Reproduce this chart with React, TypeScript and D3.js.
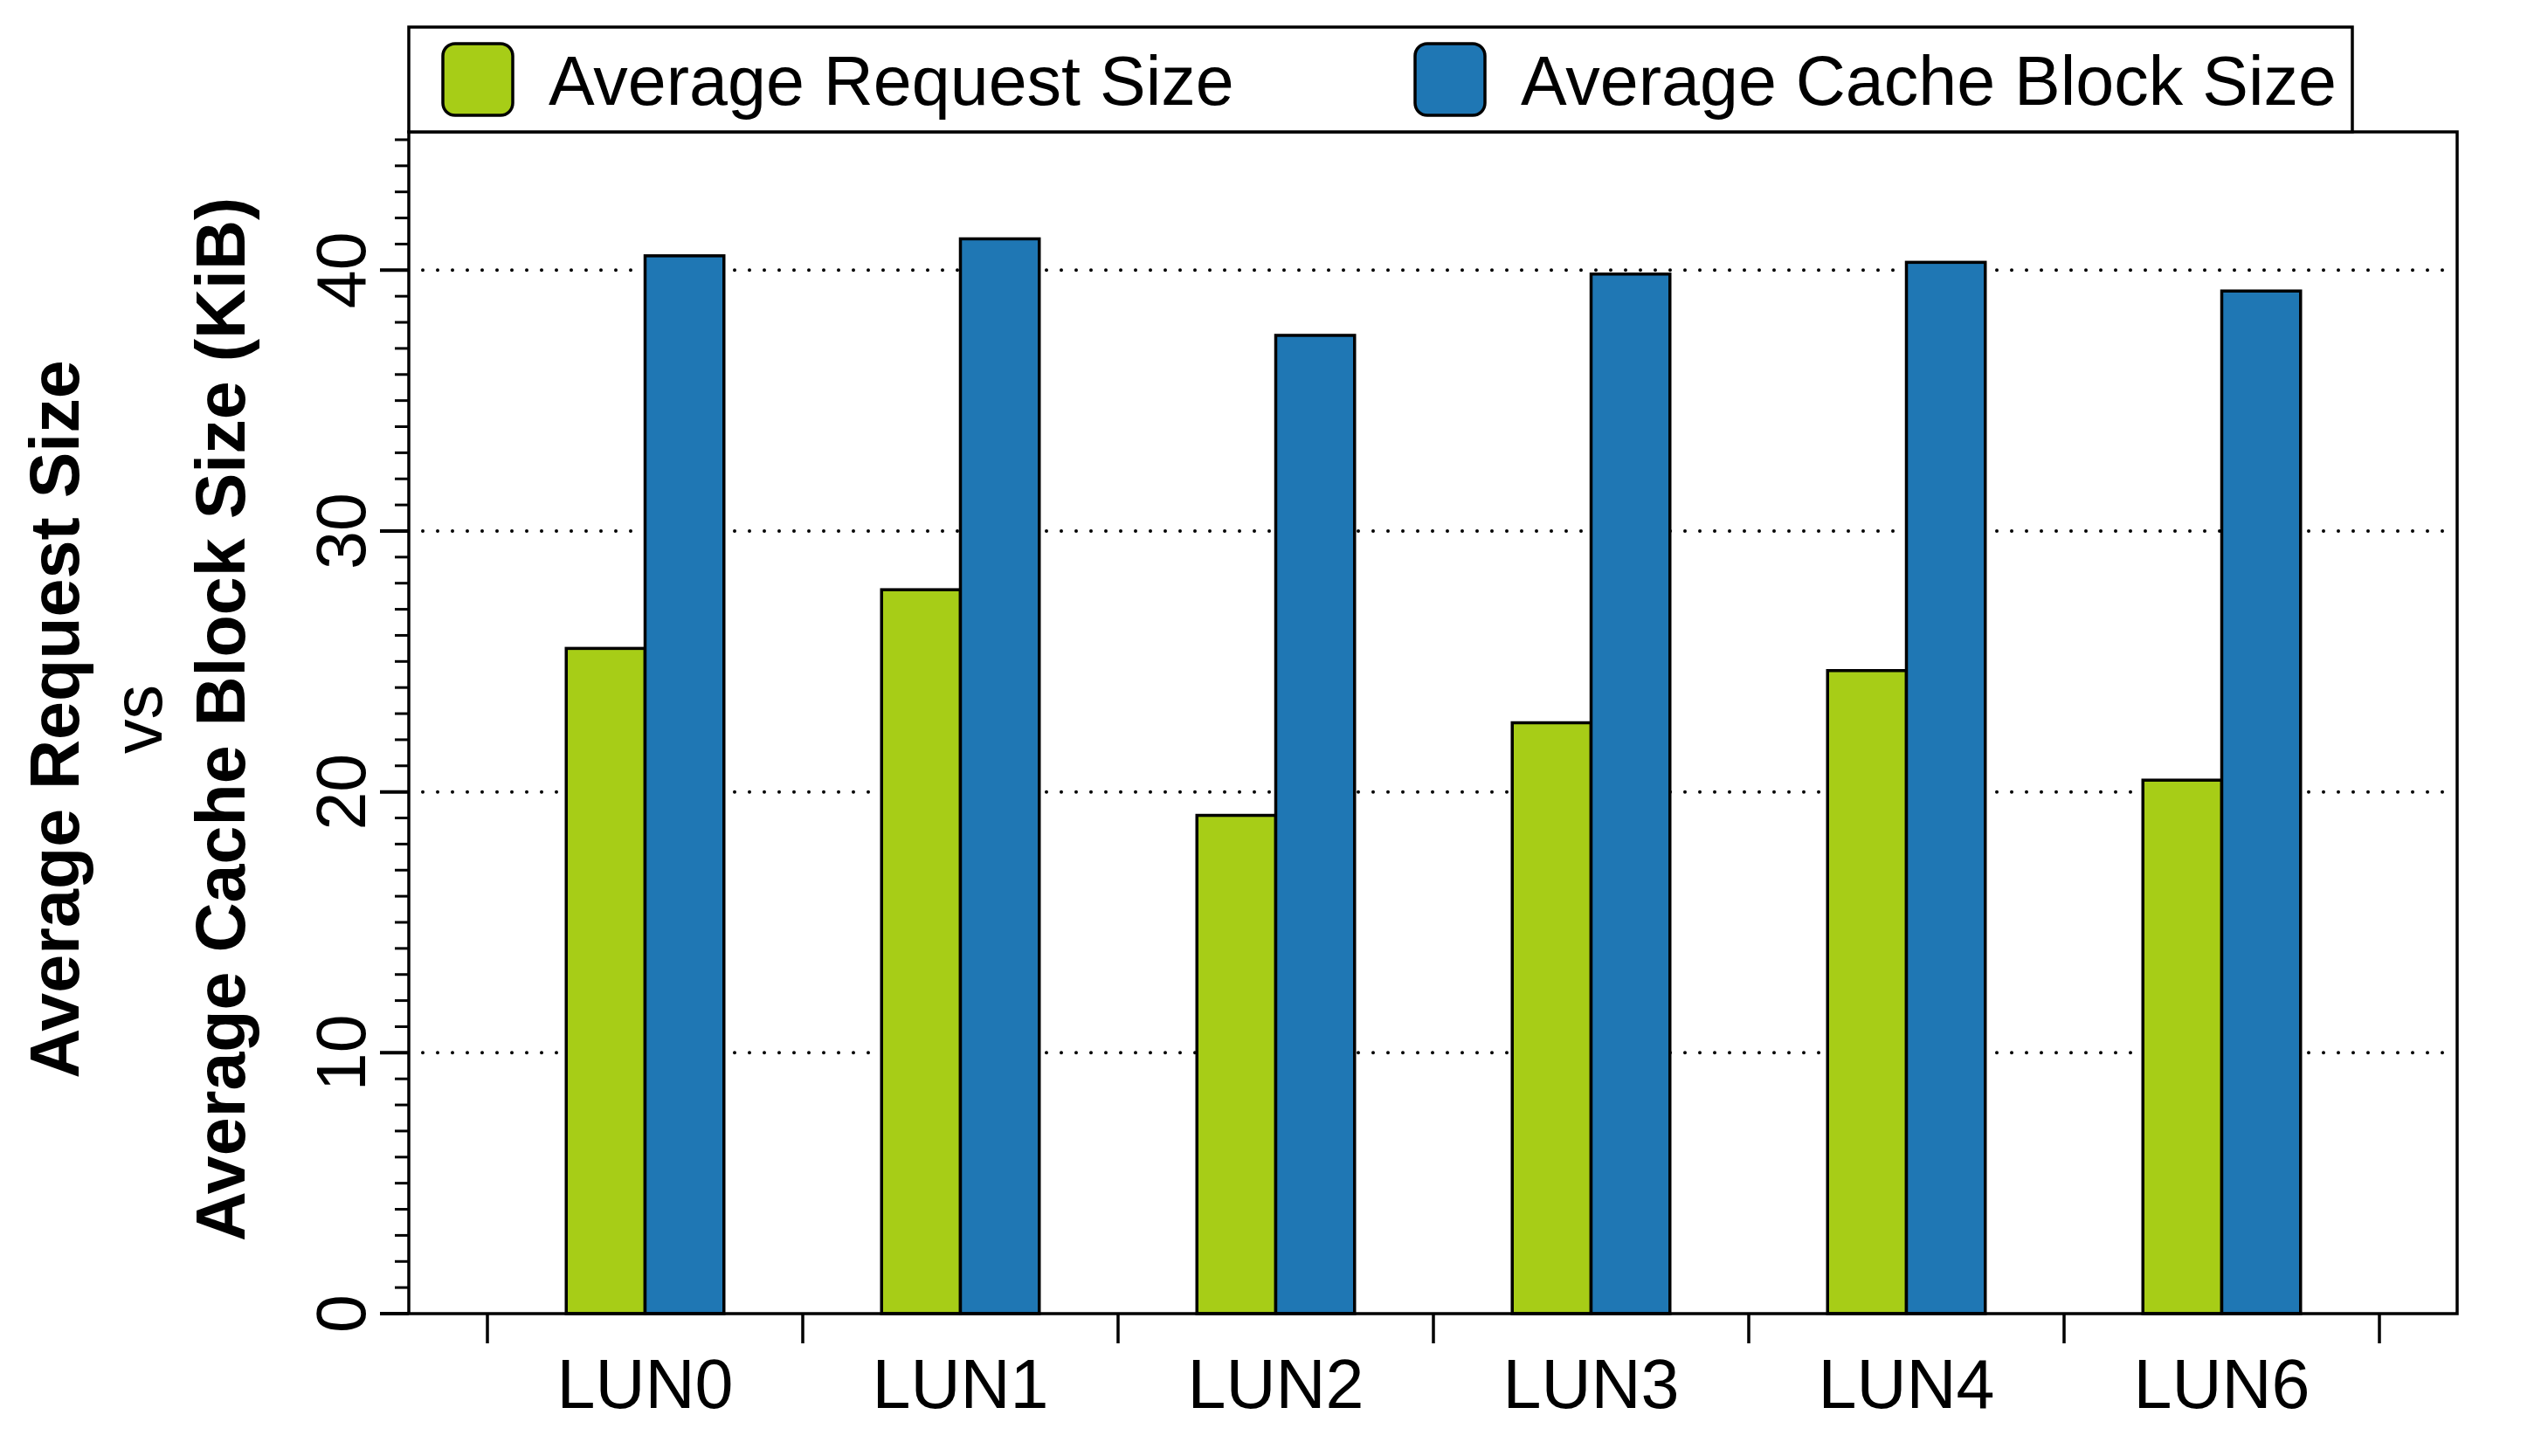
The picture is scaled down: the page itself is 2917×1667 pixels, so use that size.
import React, { useRef, useEffect } from "react";
import * as d3 from "d3";

const categories = ["LUN0", "LUN1", "LUN2", "LUN3", "LUN4", "LUN6"];
const seriesNames = ["Average Request Size", "Average Cache Block Size"];
const requestSize = [25.5, 27.75, 19.1, 22.65, 24.65, 20.45];
const cacheBlockSize = [40.55, 41.2, 37.5, 39.85, 40.3, 39.2];
const majorTicks = [0, 10, 20, 30, 40];
const colors = ["#a7cd17", "#1f77b4"];

const W = 2917;
const H = 1667;
const FONT = "'Liberation Sans', Arial, Helvetica, sans-serif";

const App: React.FC = () => {
    const ref = useRef<SVGSVGElement>(null);

    useEffect(() => {
        if (!ref.current) return;
        const svg = d3.select(ref.current);
        svg.selectAll("*").remove();

        const left = 468, right = 2813, top = 151, bottom = 1504;

        const y = d3.scaleLinear().domain([0, 45.3]).range([bottom, top]);
        const x = d3.scaleBand<string>().domain(categories).range([558, 2724]).paddingInner(0).paddingOuter(0);
        const bw = x.bandwidth();
        const xs = d3.scaleBand<number>().domain([0, 1]).range([bw * 0.25, bw * 0.75]);

        svg.append("rect").attr("width", W).attr("height", H).attr("fill", "white");

        // dotted grid lines
        svg.append("g")
            .selectAll("line")
            .data(majorTicks.filter(d => d > 0))
            .enter()
            .append("line")
            .attr("x1", left + 16)
            .attr("x2", right - 4)
            .attr("y1", d => y(d))
            .attr("y2", d => y(d))
            .attr("stroke", "#000")
            .attr("stroke-width", 4)
            .attr("stroke-linecap", "round")
            .attr("stroke-dasharray", "0 17");

        // bars
        const table = categories.map((c, i) => ({ cat: c, values: [requestSize[i], cacheBlockSize[i]] }));
        const groups = svg.append("g")
            .selectAll("g")
            .data(table)
            .enter()
            .append("g")
            .attr("transform", d => `translate(${x(d.cat)},0)`);

        groups.selectAll("rect")
            .data(d => d.values.map((v, k) => ({ v, k })))
            .enter()
            .append("rect")
            .attr("x", d => xs(d.k)!)
            .attr("width", xs.bandwidth())
            .attr("y", d => y(d.v))
            .attr("height", d => bottom - y(d.v))
            .attr("fill", d => colors[d.k])
            .attr("stroke", "#000")
            .attr("stroke-width", 3.5);

        // plot frame
        svg.append("rect")
            .attr("x", left)
            .attr("y", top)
            .attr("width", right - left)
            .attr("height", bottom - top)
            .attr("fill", "none")
            .attr("stroke", "#000")
            .attr("stroke-width", 3.5);

        // y ticks (minor every 1, major every 10)
        svg.append("g")
            .selectAll("line")
            .data(d3.range(0, 46))
            .enter()
            .append("line")
            .attr("x1", d => (d % 10 === 0 ? left - 33 : left - 16))
            .attr("x2", left)
            .attr("y1", d => y(d))
            .attr("y2", d => y(d))
            .attr("stroke", "#000")
            .attr("stroke-width", d => (d % 10 === 0 ? 4 : 3));

        svg.append("g")
            .selectAll("text")
            .data(majorTicks)
            .enter()
            .append("text")
            .attr("transform", d => `translate(418,${y(d)}) rotate(-90)`)
            .attr("text-anchor", "middle")
            .style("font-family", FONT)
            .style("font-size", "79px")
            .text(d => d);

        // x ticks at band boundaries
        const bounds = categories.map(c => x(c)!).concat([x(categories[categories.length - 1])! + bw]);
        svg.append("g")
            .selectAll("line")
            .data(bounds)
            .enter()
            .append("line")
            .attr("x1", d => d)
            .attr("x2", d => d)
            .attr("y1", bottom)
            .attr("y2", bottom + 34)
            .attr("stroke", "#000")
            .attr("stroke-width", 3.5);

        svg.append("g")
            .selectAll("text")
            .data(categories)
            .enter()
            .append("text")
            .attr("x", d => x(d)! + bw / 2)
            .attr("y", 1612)
            .attr("text-anchor", "middle")
            .style("font-family", FONT)
            .style("font-size", "79px")
            .text(d => d);

        // y axis title
        const cy = (top + bottom) / 2;
        const titles = [
            { t: "Average Request Size", x: 90, w: "bold" },
            { t: "vs", x: 185, w: "normal" },
            { t: "Average Cache Block Size (KiB)", x: 280, w: "bold" },
        ];
        svg.append("g")
            .selectAll("text")
            .data(titles)
            .enter()
            .append("text")
            .attr("transform", d => `translate(${d.x},${cy - 4}) rotate(-90)`)
            .attr("text-anchor", "middle")
            .style("font-family", FONT)
            .style("font-size", "79px")
            .style("font-weight", d => d.w)
            .text(d => d.t);

        // legend
        const legend = svg.append("g");
        legend.append("rect")
            .attr("x", left)
            .attr("y", 31)
            .attr("width", 2693 - left)
            .attr("height", top - 31)
            .attr("fill", "white")
            .attr("stroke", "#000")
            .attr("stroke-width", 3.5);

        const legendX = [507, 1620];
        const items = legend.selectAll("g.item")
            .data(seriesNames)
            .enter()
            .append("g")
            .attr("class", "item")
            .attr("transform", (d, i) => `translate(${legendX[i]},0)`);

        items.append("rect")
            .attr("x", 0)
            .attr("y", 50)
            .attr("width", 80)
            .attr("height", 82)
            .attr("rx", 14)
            .attr("fill", (d, i) => colors[i])
            .attr("stroke", "#000")
            .attr("stroke-width", 3.5);

        items.append("text")
            .attr("x", 121)
            .attr("y", 120)
            .style("font-family", FONT)
            .style("font-size", "79px")
            .text(d => d);
    }, []);

    return (
        <svg
            ref={ref}
            width={W}
            height={H}
            viewBox={`0 0 ${W} ${H}`}
            style={{ position: "absolute", left: 0, top: 0, display: "block" }}
        />
    );
};

export default App;
